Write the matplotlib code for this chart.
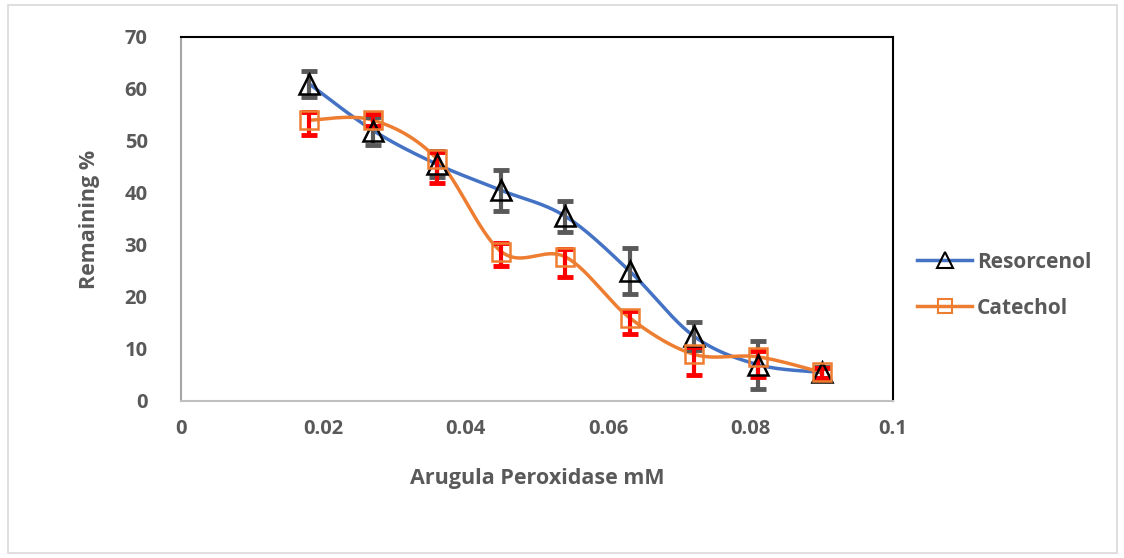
import numpy as np
import matplotlib.pyplot as plt
from matplotlib.patches import Rectangle

# data
conc = [0.018, 0.027, 0.036, 0.045, 0.054, 0.063, 0.072, 0.081, 0.09]
resorcenol = [61, 52, 45.5, 40.5, 35.5, 25, 12.5, 7, 5.5]
resorcenol_err = [2.5, 2.7, 2.5, 4.0, 3, 4.5, 2.6, 4.6, 1]
catechol = [54, 54, 46.5, 28.7, 27.7, 16, 9, 8.5, 5.5]
catechol_err_lo = [2.9, 1.2, 4.6, 2.7, 3.8, 3.1, 4.0, 3.8, 1]
catechol_err_hi = [1.5, 1.2, 1.3, 1.7, 1.5, 1.3, 1.3, 1.2, 0.8]

xticks = [0, 0.02, 0.04, 0.06, 0.08, 0.1]
xticklabels = ['0', '0.02', '0.04', '0.06', '0.08', '0.1']
yticks = [0, 10, 20, 30, 40, 50, 60, 70]

GREY = '#595959'


def smooth(x, y, n=30):
    # Catmull-Rom style curve through the points, like Excel's smoothed line
    x = np.asarray(x, float)
    y = np.asarray(y, float)
    px = np.concatenate([[x[0]], x, [x[-1]]])
    py = np.concatenate([[y[0]], y, [y[-1]]])
    xs, ys = [], []
    t = np.linspace(0, 1, n)
    for i in range(1, len(px) - 2):
        p0 = np.array([px[i], py[i]])
        p3 = np.array([px[i + 1], py[i + 1]])
        c1 = p0 + (np.array([px[i + 1], py[i + 1]]) - np.array([px[i - 1], py[i - 1]])) / 6
        c2 = p3 - (np.array([px[i + 2], py[i + 2]]) - np.array([px[i], py[i]])) / 6
        b = ((1 - t) ** 3)[:, None] * p0 + (3 * (1 - t) ** 2 * t)[:, None] * c1 \
            + (3 * (1 - t) * t ** 2)[:, None] * c2 + (t ** 3)[:, None] * p3
        xs.append(b[:, 0])
        ys.append(b[:, 1])
    return np.concatenate(xs), np.concatenate(ys)


plt.rcParams['font.family'] = ['Open Sans', 'DejaVu Sans']
plt.rcParams['font.weight'] = 'bold'

fig = plt.figure(figsize=(11.24, 5.58), dpi=100)
ax = fig.add_axes([181 / 1124, 1 - 401 / 558, (893 - 181) / 1124, (401 - 37) / 558])

# outer chart frame
fig.patches.append(Rectangle((8 / 1124, 1 - 553 / 558), 1109 / 1124, 548 / 558,
                             transform=fig.transFigure, fill=False,
                             edgecolor='#d9d9d9', linewidth=1.2))

sx, sy = smooth(conc, resorcenol)
ax.plot(sx, sy, color='#4472c4', linewidth=2.5, zorder=2)
sx, sy = smooth(conc, catechol)
ax.plot(sx, sy, color='#ed7d31', linewidth=2.5, zorder=2)

ax.errorbar(conc, resorcenol, yerr=resorcenol_err, fmt='none', ecolor=GREY,
            elinewidth=3, capsize=6, capthick=3.5, zorder=3)
ax.errorbar(conc, catechol, yerr=[catechol_err_lo, catechol_err_hi], fmt='none', ecolor='red',
            elinewidth=3, capsize=6, capthick=3.5, zorder=3)

ax.plot(conc, resorcenol, linestyle='none', marker='^', markersize=15,
        markerfacecolor='none', markeredgecolor='black', markeredgewidth=1.8, zorder=4)
ax.plot(conc, catechol, linestyle='none', marker='s', markersize=13,
        markerfacecolor='none', markeredgecolor='#ed7d31', markeredgewidth=1.8, zorder=4)

# legend handles
ax.plot([], [], color='#4472c4', linewidth=2.5, marker='^', markersize=11,
        markerfacecolor='none', markeredgecolor='black', markeredgewidth=1.5, label='Resorcenol')
ax.plot([], [], color='#ed7d31', linewidth=2.5, marker='s', markersize=10,
        markerfacecolor='none', markeredgecolor='#ed7d31', markeredgewidth=1.5, label='Catechol')
leg = ax.legend(loc='center left', bbox_to_anchor=(1.008, 0.318), frameon=False,
                fontsize=15, labelspacing=1.2, handlelength=2.6, handletextpad=0.25,
                labelcolor=GREY)

ax.set_xlim(0, 0.1)
ax.set_ylim(0, 70)
ax.set_xticks(xticks)
ax.set_xticklabels(xticklabels)
ax.set_yticks(yticks)
ax.tick_params(length=0, labelsize=14.5, labelcolor=GREY)
ax.tick_params(axis='x', pad=13)
ax.tick_params(axis='y', pad=24)

ax.set_xlabel('Arugula Peroxidase mM', fontsize=15.5, color=GREY, fontweight='bold', labelpad=21)
ax.set_ylabel('Remaining %', fontsize=15.5, color=GREY, fontweight='bold', labelpad=18)

ax.spines['top'].set_color('black')
ax.spines['right'].set_color('black')
ax.spines['left'].set_color('#a6a6a6')
ax.spines['bottom'].set_color('#bfbfbf')
for s in ax.spines.values():
    s.set_linewidth(1.5)

fig.savefig('out.png', dpi=100)
